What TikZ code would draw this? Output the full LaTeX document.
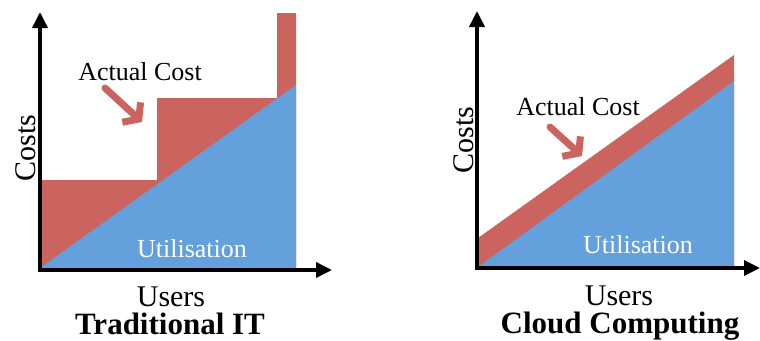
\documentclass[tikz,border=0pt]{standalone}
\usepackage{fontspec}
\setmainfont{Liberation Serif}
\usepackage{xcolor}
\usetikzlibrary{arrows.meta}
\definecolor{costred}{RGB}{203,100,94}
\definecolor{useblue}{RGB}{100,160,220}

\begin{document}
\begin{tikzpicture}[x=1pt,y=1pt,yscale=-1,xscale=1,
  axis/.style={line width=3.6pt,-{Triangle[length=16pt,width=15pt]}},
  costfill/.style={fill=costred,draw=none},
  usefill/.style={fill=useblue,draw=none},
  pointer/.style={costred,line width=7pt,line cap=round,-{Straight Barb[length=10pt,width=27pt]}},
  label/.style={inner sep=0pt,anchor=base,font=\fontsize{26}{30}\selectfont},
  axislabel/.style={inner sep=0pt,anchor=base,font=\fontsize{30}{34}\selectfont},
  title/.style={inner sep=0pt,anchor=base,font=\fontsize{31}{35}\selectfont\bfseries}]
\useasboundingbox (0,0) rectangle (760,340);

% Traditional IT
%Shape: Steps
\fill[costfill] (40,268) -- (40,180) -- (157,180) -- (157,98) -- (277,98) -- (277,13) -- (296,13) -- (296,268) -- cycle ;
%Shape: Triangle
\fill[usefill] (40,268) -- (296,85) -- (296,268) -- cycle ;
\coordinate (lo) at (40,270);
\coordinate (ly) at (40,12);
\coordinate (lx) at (332,270);
\draw[axis] (lo) -- (ly);
\draw[axis] ([xshift=-1.8pt]lo) -- (lx);

% Text Node
\node[label] (lcost) at (140,80) {Actual Cost};
\coordinate (lptail) at (105,88);
\coordinate (lphead) at (142,122);
\draw[pointer] (lptail) -- (lphead);
% Text Node
\node[label,white] (luse) at (192,257) {Utilisation};
% Text Node
\node[axislabel,rotate=90] (lcosts) at (35,148) {Costs};
% Text Node
\node[axislabel] (lusers) at (171,306) {Users};
% Text Node
\node[title] (ltitle) at (170,334) {Traditional IT};

% Cloud Computing
%Shape: Band
\fill[costfill] (478,267) -- (478,238) -- (734,55) -- (734,267) -- cycle ;
%Shape: Triangle
\fill[usefill] (478,267) -- (734,81) -- (734,267) -- cycle ;
\coordinate (ro) at (477,268);
\coordinate (ry) at (477,11);
\coordinate (rx) at (760,268);
\draw[axis] (ro) -- (ry);
\draw[axis] ([xshift=-1.8pt]ro) -- (rx);

% Text Node
\node[label] (rcost) at (578,115) {Actual Cost};
\coordinate (rptail) at (550,127);
\coordinate (rphead) at (582,156);
\draw[pointer] (rptail) -- (rphead);
% Text Node
\node[label,white] (ruse) at (638,253) {Utilisation};
% Text Node
\node[axislabel,rotate=90] (rcosts) at (473,140) {Costs};
% Text Node
\node[axislabel] (rusers) at (619,305) {Users};
% Text Node
\node[title] (rtitle) at (620,333) {Cloud Computing};
\end{tikzpicture}
\end{document}
